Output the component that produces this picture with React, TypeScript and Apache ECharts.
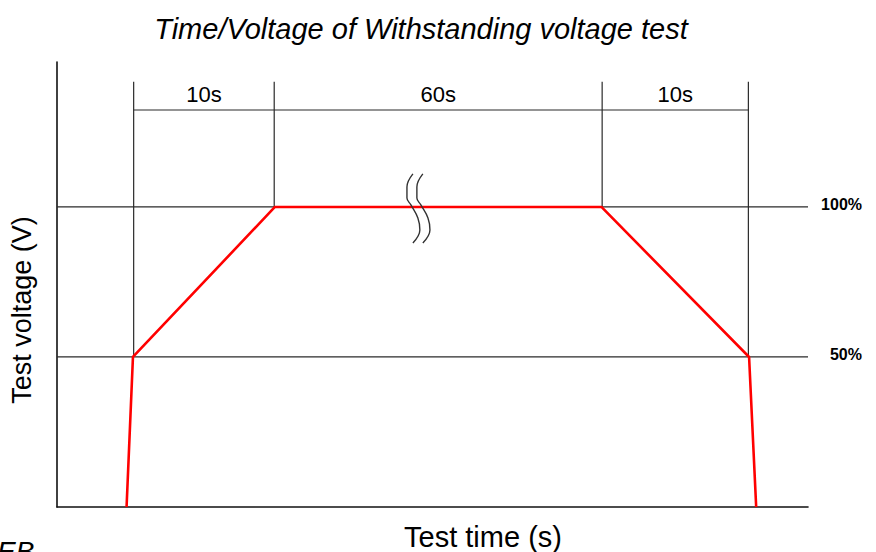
import React, { useEffect, useRef } from "react";
import * as echarts from "echarts";

// Red test-voltage profile (schematic time units, % of test voltage)
const profileTime = [4.9, 5.35, 15.35, 38.35, 48.75, 49.25];
const profilePct = [0, 50, 100, 100, 50, 0];

// Reference levels
const levelValues = [100, 50];
const levelLabels = ["100%", "50%"];

// Stage boundaries and their dimension labels
const stageTimes = [5.4, 15.3, 38.4, 48.7];
const stageBase = [50, 100, 100, 50];
const stageLabels = ["10s", "60s", "10s"];
const dimTop = 141.7;
const dimLineY = 132.3;
const dimLabelY = 137.6;

// Axis break symbol (two wavy strokes)
const breakAX = [25.07, 24.65, 24.65, 24.93, 25.42, 25.56, 25.07];
const breakBX = [25.77, 25.35, 25.35, 25.63, 26.13, 26.27, 25.77];
const breakY = [111, 106.67, 103, 100.67, 96.33, 92.33, 88];

const xMax = 52.9;
const yMax = 148.3;

const FONT = "'Liberation Sans', Arial, Helvetica, sans-serif";

export default function App() {
  const ref = useRef<HTMLDivElement>(null);

  useEffect(() => {
    if (!ref.current) return;
    const chart = echarts.init(ref.current, null, { renderer: "svg" });

    const series: any[] = [];
    const thin = { color: "#2a2a2a", width: 1.2 };

    // reference level lines
    levelValues.forEach((v) => {
      series.push({
        type: "line",
        data: [[0, v], [xMax, v]],
        symbol: "none",
        lineStyle: thin,
        silent: true,
        z: 2,
      });
    });
    // level labels
    series.push({
      type: "scatter",
      symbolSize: 0,
      itemStyle: { opacity: 1 },
      data: levelValues.map((v, i) => ({ value: [xMax, v], name: levelLabels[i] })),
      label: {
        show: true,
        position: "inside",
        align: "right",
        verticalAlign: "middle",
        offset: [54, -2],
        formatter: (p: any) => p.name,
        color: "#000",
        opacity: 1,
        fontFamily: FONT,
        fontWeight: "bold",
        fontSize: 16,
      },
      silent: true,
      z: 5,
    });

    // stage vertical lines
    stageTimes.forEach((t, i) => {
      series.push({
        type: "line",
        data: [[t, stageBase[i]], [t, dimTop]],
        symbol: "none",
        lineStyle: thin,
        silent: true,
        z: 2,
      });
    });
    // dimension line
    series.push({
      type: "line",
      data: [[stageTimes[0], dimLineY], [stageTimes[stageTimes.length - 1], dimLineY]],
      symbol: "none",
      lineStyle: thin,
      silent: true,
      z: 2,
    });
    // dimension labels
    series.push({
      type: "scatter",
      symbolSize: 0,
      itemStyle: { opacity: 1 },
      data: stageLabels.map((s, i) => ({
        value: [(stageTimes[i] + stageTimes[i + 1]) / 2, dimLabelY],
        name: s,
      })),
      label: {
        show: true,
        position: "inside",
        align: "center",
        verticalAlign: "middle",
        formatter: (p: any) => p.name,
        color: "#000",
        opacity: 1,
        fontFamily: FONT,
        fontSize: 22,
      },
      silent: true,
      z: 5,
    });

    // red profile
    series.push({
      type: "line",
      data: profileTime.map((t, i) => [t, profilePct[i]]),
      symbol: "none",
      lineStyle: { color: "#ff0000", width: 2.6 },
      silent: true,
      z: 3,
    });

    // break symbol
    [breakAX, breakBX].forEach((bx) => {
      series.push({
        type: "line",
        data: bx.map((x, i) => [x, breakY[i]]),
        symbol: "none",
        smooth: 0.4,
        lineStyle: { color: "#333", width: 1.4 },
        silent: true,
        z: 4,
      });
    });

    chart.setOption({
      animation: false,
      backgroundColor: "#fff",
      grid: { left: 57, top: 62, right: 68, bottom: 45, containLabel: false },
      xAxis: {
        type: "value",
        min: 0,
        max: xMax,
        axisLine: { show: true, lineStyle: { color: "#111", width: 1.6 } },
        axisTick: { show: false },
        axisLabel: { show: false },
        splitLine: { show: false },
      },
      yAxis: {
        type: "value",
        min: 0,
        max: yMax,
        axisLine: { show: true, lineStyle: { color: "#111", width: 1.6 } },
        axisTick: { show: false },
        axisLabel: { show: false },
        splitLine: { show: false },
      },
      graphic: [
        {
          type: "text",
          x: 421,
          y: 29,
          style: {
            text: "Time/Voltage of Withstanding voltage test",
            font: `italic 29px ${FONT}`,
            fill: "#000",
            align: "center",
            verticalAlign: "middle",
          },
        },
        {
          type: "text",
          x: 483,
          y: 537,
          style: {
            text: "Test time (s)",
            font: `29px ${FONT}`,
            fill: "#000",
            align: "center",
            verticalAlign: "middle",
          },
        },
        {
          type: "text",
          x: 22,
          y: 310,
          rotation: Math.PI / 2,
          style: {
            text: "Test voltage (V)",
            font: `27px ${FONT}`,
            fill: "#000",
            align: "center",
            verticalAlign: "middle",
          },
        },
        {
          type: "text",
          x: -3,
          y: 537,
          style: {
            text: "EB",
            font: `italic 28px ${FONT}`,
            fill: "#000",
            align: "left",
            verticalAlign: "top",
          },
        },
      ],
      series,
    });

    return () => chart.dispose();
  }, []);

  return <div ref={ref} style={{ width: 876, height: 552, position: "absolute", left: 0, top: 0 }} />;
}
